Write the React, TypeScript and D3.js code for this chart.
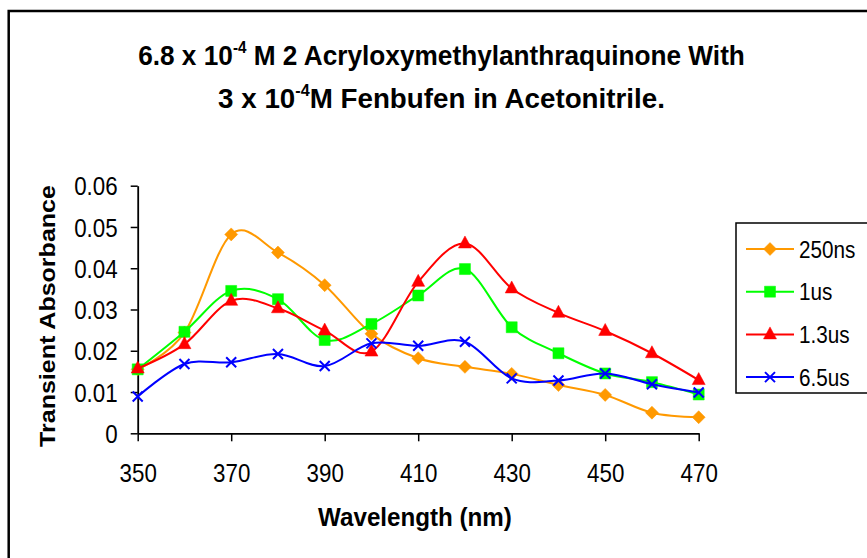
import React, { useRef, useEffect } from 'react';
import * as d3 from 'd3';

const wavelengths = [350, 360, 370, 380, 390, 400, 410, 420, 430, 440, 450, 460, 470];
const abs250ns = [0.0155, 0.0244, 0.0482, 0.0438, 0.0359, 0.0241, 0.0182, 0.0161, 0.0144, 0.0117, 0.0093, 0.005, 0.0039];
const abs1us = [0.0155, 0.0246, 0.0345, 0.0325, 0.0226, 0.0265, 0.0334, 0.0398, 0.0257, 0.0194, 0.0145, 0.0124, 0.0094];
const abs13us = [0.0157, 0.0216, 0.0321, 0.0303, 0.0249, 0.0198, 0.0367, 0.046, 0.0351, 0.0292, 0.0248, 0.0194, 0.0129];
const abs65us = [0.0089, 0.0168, 0.0172, 0.0192, 0.0163, 0.0218, 0.0212, 0.0222, 0.0133, 0.0128, 0.0145, 0.0119, 0.0099];

const seriesNames = ['250ns', '1us', '1.3us', '6.5us'];
const xTicks = [350, 370, 390, 410, 430, 450, 470];
const yTicks = [0, 0.01, 0.02, 0.03, 0.04, 0.05, 0.06];

const colors = ['#FF9900', '#00FF00', '#FF0000', '#0000FF'];
const markers = [
  'M0,-6.5L6.5,0L0,6.5L-6.5,0Z',
  'M-5.5,-5.5L5.5,-5.5L5.5,5.5L-5.5,5.5Z',
  'M0,-7.5L6.5,4.5L-6.5,4.5Z',
  'M-5,-5L5,5M-5,5L5,-5'
];

const FONT = '"Liberation Sans", Arial, sans-serif';

const App: React.FC = () => {
  const ref = useRef<SVGSVGElement>(null);

  useEffect(() => {
    const svg = d3.select(ref.current);
    svg.selectAll('*').remove();

    const x = d3.scaleLinear().domain([350, 470]).range([137.7, 698.7]);
    const y = d3.scaleLinear().domain([0, 0.06]).range([433.3, 185.7]);

    // squeeze/stretch text along its own direction to a measured width
    const fit = (sel: any, w: number, cx: number, cy: number, rot = 0) => {
      const node = sel.node() as SVGTextElement;
      const s = w / node.getBBox().width;
      sel.attr('transform', `translate(${cx},${cy}) rotate(${rot}) scale(${s},1)`);
    };

    // outer frame
    svg.append('rect')
      .attr('x', 8.7).attr('y', 11).attr('width', 900).attr('height', 600)
      .attr('fill', 'none').attr('stroke', '#000').attr('stroke-width', 2.5);

    // title
    const t1 = svg.append('text').attr('font-family', FONT).attr('font-weight', 'bold')
      .attr('font-size', 27.5).attr('text-anchor', 'middle');
    t1.append('tspan').text('6.8 x 10');
    t1.append('tspan').attr('font-size', 16).attr('dy', -12).text('-4');
    t1.append('tspan').attr('dy', 12).text(' M 2 Acryloxymethylanthraquinone With');
    fit(t1, 607, 441.5, 65);

    const t2 = svg.append('text').attr('font-family', FONT).attr('font-weight', 'bold')
      .attr('font-size', 27.5).attr('text-anchor', 'middle');
    t2.append('tspan').text('3 x 10');
    t2.append('tspan').attr('font-size', 16).attr('dy', -12).text('-4');
    t2.append('tspan').attr('dy', 12).text('M Fenbufen in Acetonitrile.');
    fit(t2, 447, 441.5, 108);

    // axes
    const gx = svg.append('g').attr('transform', 'translate(0,433.3)')
      .call(d3.axisBottom(x).tickValues(xTicks).tickSize(8).tickSizeOuter(0).tickFormat(d3.format('d')));
    const gy = svg.append('g').attr('transform', 'translate(137.7,0)')
      .call(d3.axisLeft(y).tickValues(yTicks).tickSize(7).tickSizeOuter(0)
        .tickFormat((d: any) => (d === 0 ? '0' : d3.format('.2f')(d))));

    [gx, gy].forEach(g => {
      g.selectAll('.domain').attr('stroke', '#000').attr('stroke-width', 1.8);
      g.selectAll('.tick line').attr('stroke', '#000').attr('stroke-width', 1.5);
      g.selectAll('.tick text').attr('font-family', FONT).attr('font-size', 26).attr('fill', '#000');
    });
    gx.selectAll('.tick text').attr('y', 48.5).attr('dy', 0).attr('transform', 'scale(0.86,1)');
    gy.selectAll('.tick text').attr('x', -23.3).attr('dy', '0.35em').attr('transform', 'scale(0.86,1)');

    // axis titles
    const xt = svg.append('text').attr('font-family', FONT).attr('font-weight', 'bold')
      .attr('font-size', 25).attr('text-anchor', 'middle').text('Wavelength (nm)');
    fit(xt, 194, 415, 526);

    const yt = svg.append('text').attr('font-family', FONT).attr('font-weight', 'bold')
      .attr('font-size', 22).attr('text-anchor', 'middle').text('Transient Absorbance');
    fit(yt, 262, 55, 316, -90);

    // series
    const data = [abs250ns, abs1us, abs13us, abs65us];
    const line = d3.line<number>()
      .x((_, i) => x(wavelengths[i]))
      .y(d => y(d))
      .curve(d3.curveCardinal.tension(0));

    data.forEach((vals, k) => {
      svg.append('path')
        .datum(vals)
        .attr('fill', 'none')
        .attr('stroke', colors[k])
        .attr('stroke-width', 2)
        .attr('d', line);
      svg.append('g').selectAll('path')
        .data(vals)
        .join('path')
        .attr('transform', (d, i) => `translate(${x(wavelengths[i])},${y(d)})`)
        .attr('d', markers[k])
        .attr('fill', k === 3 ? 'none' : colors[k])
        .attr('stroke', colors[k])
        .attr('stroke-width', k === 3 ? 2 : 0.5);
    });

    // legend
    svg.append('rect')
      .attr('x', 736).attr('y', 223).attr('width', 200).attr('height', 170)
      .attr('fill', '#fff').attr('stroke', '#000').attr('stroke-width', 1.5);
    seriesNames.forEach((name, k) => {
      const cy = 249 + k * 42.7;
      svg.append('line')
        .attr('x1', 746).attr('x2', 794).attr('y1', cy).attr('y2', cy)
        .attr('stroke', colors[k]).attr('stroke-width', 2);
      svg.append('path')
        .attr('transform', `translate(770,${cy})`)
        .attr('d', markers[k])
        .attr('fill', k === 3 ? 'none' : colors[k])
        .attr('stroke', colors[k])
        .attr('stroke-width', k === 3 ? 2 : 0.5);
      svg.append('text')
        .attr('font-family', FONT).attr('font-size', 23)
        .attr('transform', `translate(799,${cy + 8.5}) scale(0.9,1)`)
        .text(name);
    });
  }, []);

  return (
    <svg ref={ref} width={867} height={558}
      style={{ position: 'absolute', left: 0, top: 0, background: '#fff' }} />
  );
};

export default App;
